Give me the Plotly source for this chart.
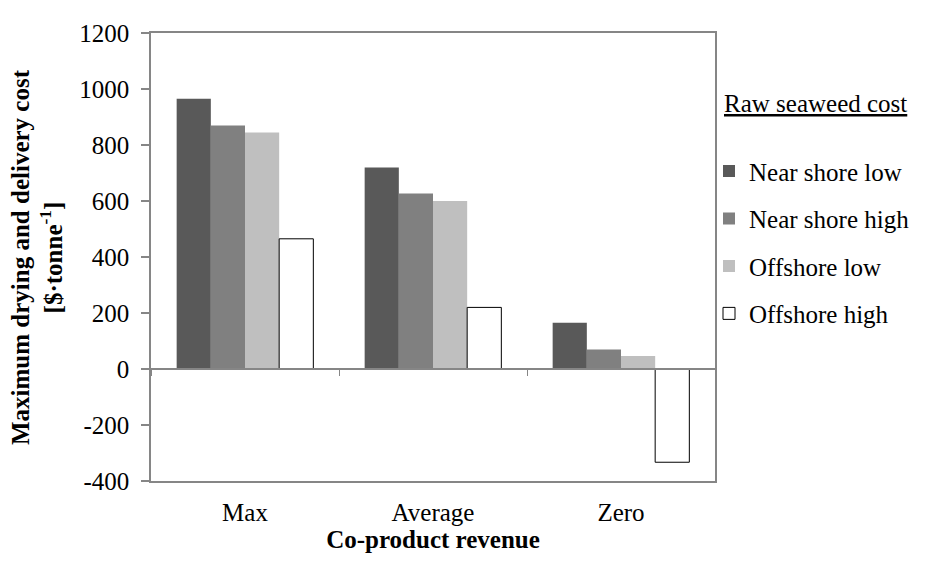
import plotly.graph_objects as go

categories = ["Max", "Average", "Zero"]
series_names = ["Near shore low", "Near shore high", "Offshore low", "Offshore high"]
near_shore_low = [965, 720, 165]
near_shore_high = [870, 627, 70]
offshore_low = [845, 600, 46]
offshore_high = [465, 220, -333]
y_ticks = [-400, -200, 0, 200, 400, 600, 800, 1000, 1200]
y_tick_labels = ["-400", "-200", "0", "200", "400", "600", "800", "1000", "1200"]

series_values = [near_shore_low, near_shore_high, offshore_low, offshore_high]
fills = ["#595959", "#808080", "#bfbfbf", "#ffffff"]
lines = ["#595959", "#808080", "#bfbfbf", "#000000"]
line_w = [0, 0, 0, 1]

FONT = "'Liberation Serif', 'Times New Roman', Times, serif"
FS = 25
AX = "#868686"

fig = go.Figure()
for i, (name, vals) in enumerate(zip(series_names, series_values)):
    fig.add_trace(go.Bar(
        x=categories, y=vals, name=name,
        marker=dict(color=fills[i], line=dict(color=lines[i], width=line_w[i])),
        legendgroup=name,
    ))

# invisible trace to establish secondary x axis (category boundaries at zero line)
fig.add_trace(go.Scatter(x=[0], y=[0], xaxis="x2", mode="markers",
                         marker=dict(opacity=0), showlegend=False, hoverinfo="skip"))

n = len(categories)
PW = 564.0
PH = 457.0
fig.update_layout(
    width=925, height=557,
    margin=dict(l=143, r=218, t=16, b=84),
    paper_bgcolor="white", plot_bgcolor="white",
    font=dict(family=FONT, size=FS, color="black"),
    barmode="group", bargap=0.273, bargroupgap=0,
    showlegend=True,
    legend=dict(x=1.0 - 6 / PW, xanchor="left", y=0.743, yanchor="top",
                font=dict(family=FONT, size=FS), traceorder="grouped",
                tracegroupgap=12, bgcolor="rgba(0,0,0,0)"),
    xaxis=dict(type="category", showline=True, linecolor=AX, linewidth=1.5, mirror=True,
               ticks="", ticklabelstandoff=8, showgrid=False, zeroline=False,
               title=dict(text="<b>Co-product revenue</b>", font=dict(family=FONT, size=FS), standoff=4),
               range=[-0.5, n - 0.5]),
    xaxis2=dict(overlaying="x", anchor="free", position=0.25, range=[-0.5, n - 0.5],
                tickmode="array", tickvals=[i - 0.5 for i in range(n + 1)],
                showticklabels=False, ticks="outside", ticklen=6, tickcolor=AX,
                showline=True, linecolor=AX, linewidth=1.5, showgrid=False, zeroline=False),
    yaxis=dict(range=[-400, 1200], tickmode="array", tickvals=y_ticks, ticktext=y_tick_labels,
               ticks="outside", ticklen=8, tickcolor=AX, tickwidth=1.5,
               showline=True, linecolor=AX, linewidth=1.5, mirror=True,
               showgrid=False, zeroline=False, ticklabelstandoff=7),
    annotations=[
        dict(text="<b>Maximum drying and delivery cost<br>[$·tonne<sup>-1</sup>]</b>",
             xref="paper", yref="paper", x=(37 - 151) / PW, y=0.5, xanchor="center", yanchor="middle",
             textangle=-90, showarrow=False, font=dict(family=FONT, size=FS)),
        dict(text="<u>Raw seaweed cost</u>", xref="paper", yref="paper",
             x=(722 - 151) / PW, y=(481 - 96) / PH, xanchor="left", yanchor="middle",
             showarrow=False, font=dict(family=FONT, size=FS)),
    ],
)

fig.write_html("out.html")
